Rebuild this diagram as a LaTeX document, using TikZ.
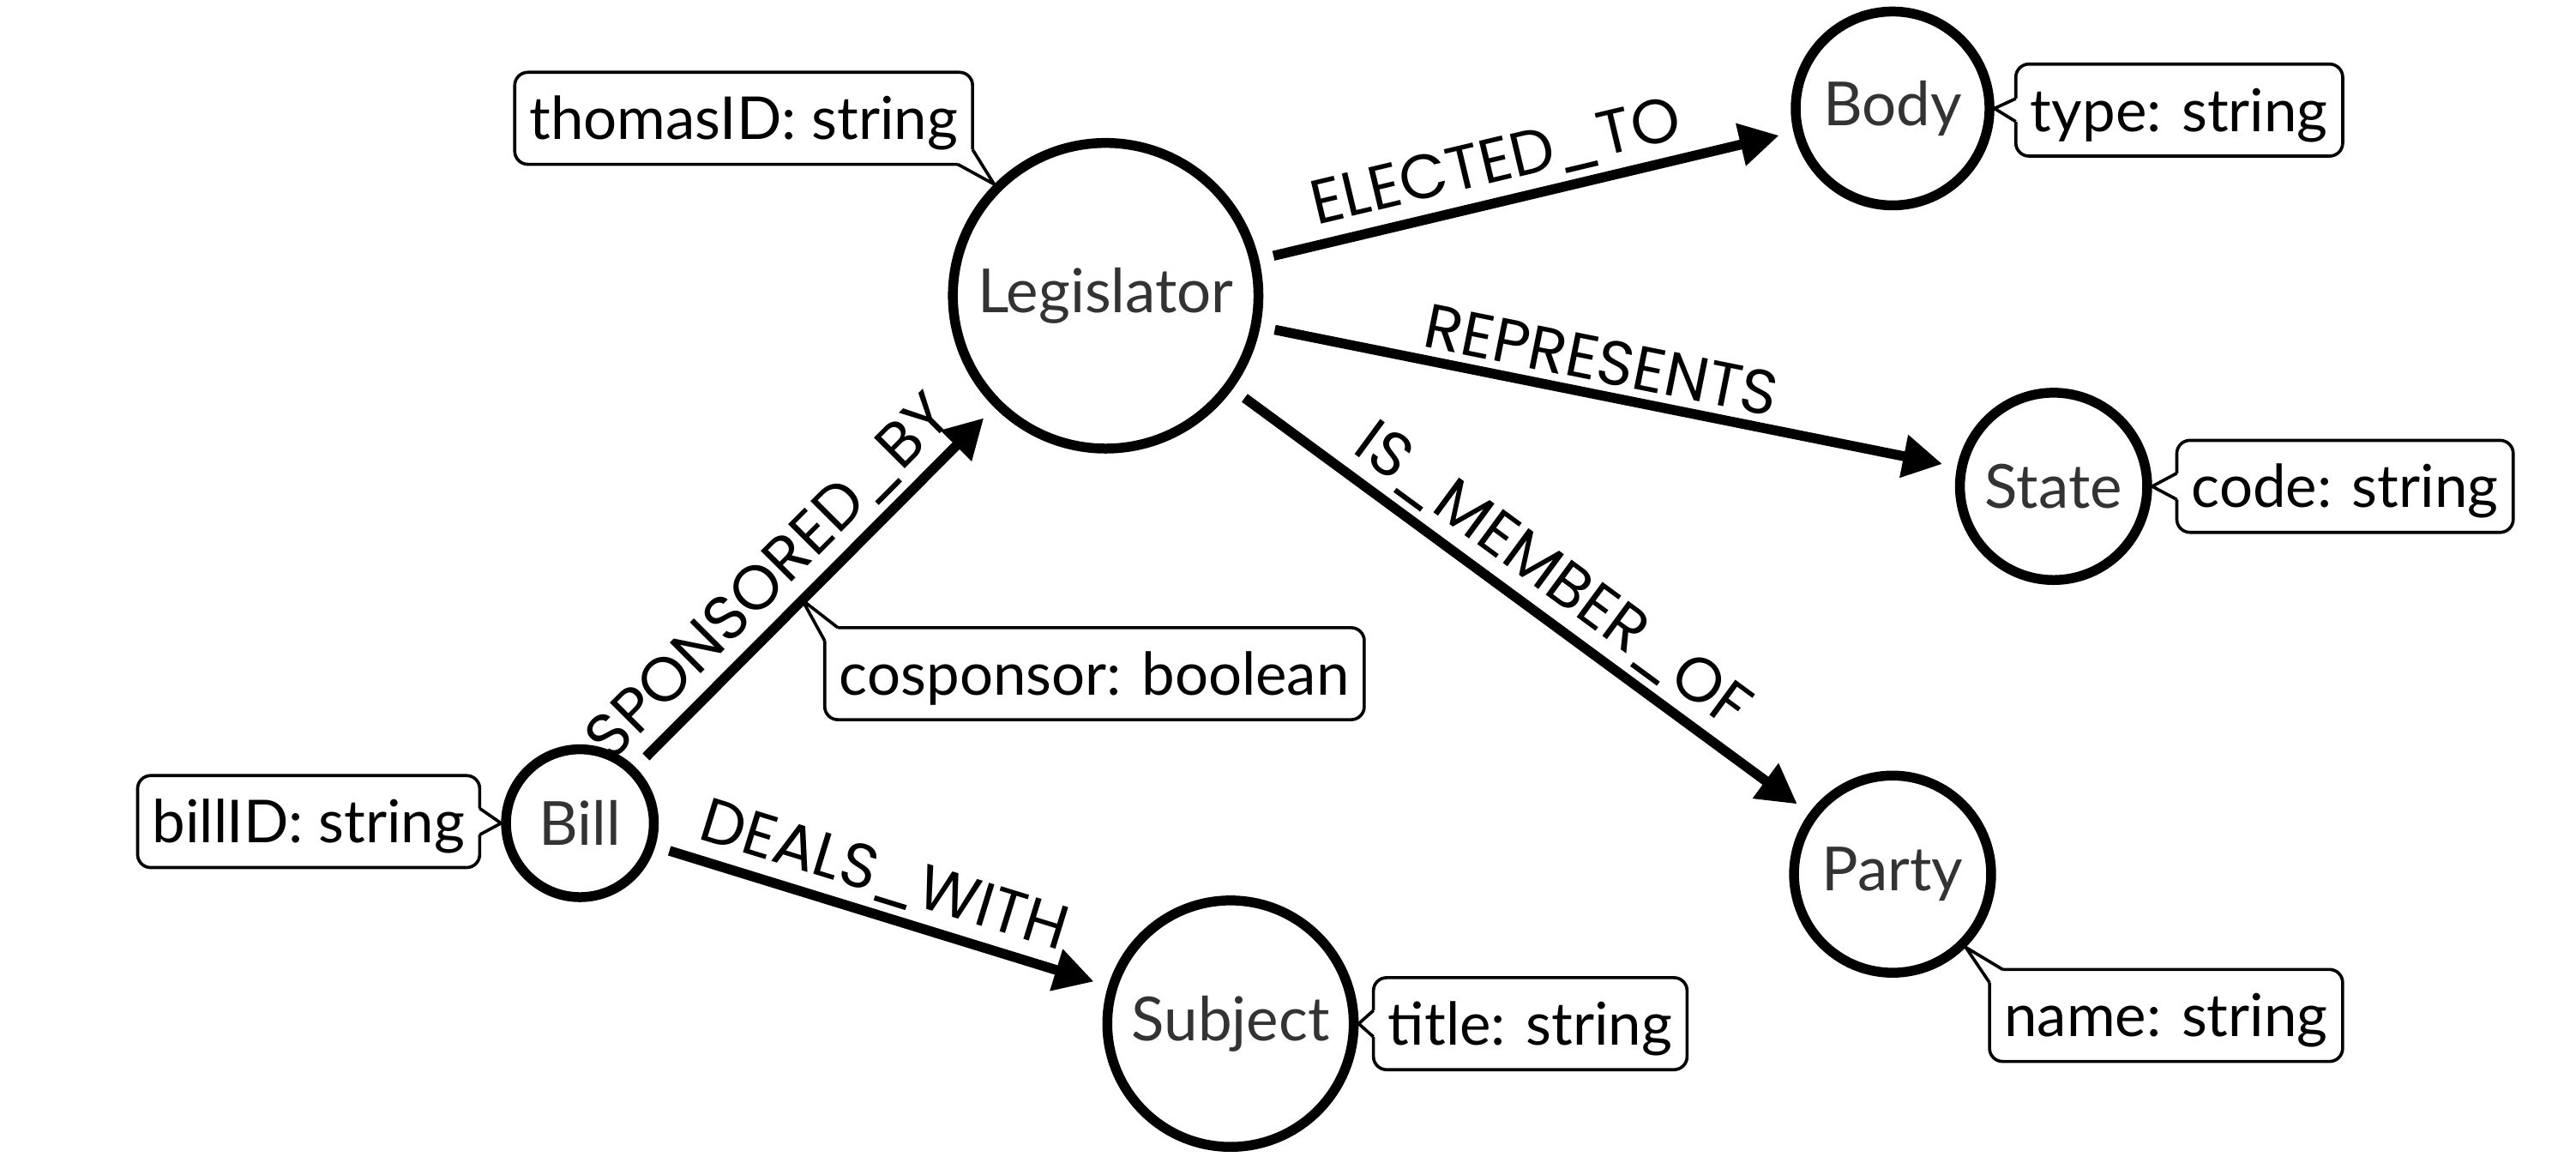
\documentclass[tikz,border=0pt]{standalone}
\usepackage{fontspec}
\setmainfont{Lato}
\newfontfamily\relfont{Poppins}
\usetikzlibrary{arrows.meta,calc}

\begin{document}
\begin{tikzpicture}[x=1pt,y=-1pt,
  entity/.style={circle,draw,line width=6pt,inner sep=0pt,text=black!80,font=\fontsize{37}{37}\selectfont},
  prop/.style={draw,fill=white,line width=1.9pt,rounded corners=8pt,outer sep=0pt,inner xsep=9pt,inner ysep=15pt,text height=26pt,text depth=0pt,font=\fontsize{36}{36}\selectfont},
  pointer/.style={line width=1.9pt,line join=round},
  rel/.style={line width=6pt,-{Triangle[length=24pt,width=25pt]},shorten <=9pt,shorten >=9pt},
  rellabel/.style={font=\relfont\fontsize{38}{38}\selectfont,above,sloped,inner sep=4.5pt}]

\useasboundingbox (0,0) rectangle (1568,711);

% entities
\node[entity,minimum size=186pt] (legis) at (673,180) {Legislator};
\node[entity,minimum size=118pt] (body) at (1152,66) {Body};
\node[entity,minimum size=114pt] (state) at (1250,296) {State};
\node[entity,minimum size=120pt] (party) at (1152,532) {Party};
\node[entity,minimum size=90pt] (bill) at (353,501) {Bill};
\node[entity,minimum size=150pt] (subject) at (749,623) {Subject};

\coordinate (spons) at ($(bill)!0.423!(legis)$);

% properties
\node[prop,anchor=south east] (thomas) at (592,100) {thomasID: string};
\node[prop,anchor=west] (typ) at (1227,67) {type: string};
\node[prop,anchor=west] (code) at (1325,296) {code: string};
\node[prop,anchor=north west] (cospons) at (502,382) {cosponsor: boolean};
\node[prop,anchor=east] (billid) at (292,500) {billID: string};
\node[prop,anchor=west] (title) at (836,623) {title: string};
\node[prop,anchor=north west] (pname) at (1211,590) {name: string};

% pointers of the properties
\fill[white] ([xshift=-9pt]thomas.south east) -- (legis.135) -- ([yshift=9pt]thomas.south east) -- ([shift={(-9pt,9pt)}]thomas.south east) -- cycle;
\draw[pointer] ([xshift=-9pt]thomas.south east) -- (legis.135) -- ([yshift=9pt]thomas.south east);

\fill[white] ([yshift=7pt]typ.west) -- (body.east) -- ([yshift=-7pt]typ.west) -- ([shift={(2pt,-7pt)}]typ.west) -- ([shift={(2pt,7pt)}]typ.west) -- cycle;
\draw[pointer] ([yshift=7pt]typ.west) -- (body.east) -- ([yshift=-7pt]typ.west);

\fill[white] ([yshift=8pt]code.west) -- (state.east) -- ([yshift=-8pt]code.west) -- ([shift={(2pt,-8pt)}]code.west) -- ([shift={(2pt,8pt)}]code.west) -- cycle;
\draw[pointer] ([yshift=8pt]code.west) -- (state.east) -- ([yshift=-8pt]code.west);

\fill[white] ([yshift=8pt]title.west) -- (subject.east) -- ([yshift=-8pt]title.west) -- ([shift={(2pt,-8pt)}]title.west) -- ([shift={(2pt,8pt)}]title.west) -- cycle;
\draw[pointer] ([yshift=8pt]title.west) -- (subject.east) -- ([yshift=-8pt]title.west);

\fill[white] ([yshift=8pt]billid.east) -- (bill.west) -- ([yshift=-8pt]billid.east) -- ([shift={(-2pt,-8pt)}]billid.east) -- ([shift={(-2pt,8pt)}]billid.east) -- cycle;
\draw[pointer] ([yshift=8pt]billid.east) -- (bill.west) -- ([yshift=-8pt]billid.east);

\fill[white] ([xshift=8pt]pname.north west) -- (party.-45) -- ([yshift=-8pt]pname.north west) -- ([shift={(8pt,-8pt)}]pname.north west) -- cycle;
\draw[pointer] ([xshift=8pt]pname.north west) -- (party.-45) -- ([yshift=-8pt]pname.north west);

\fill[white] ([xshift=8pt]cospons.north west) -- (spons) -- ([yshift=-8pt]cospons.north west) -- ([shift={(8pt,-8pt)}]cospons.north west) -- cycle;
\draw[pointer] ([xshift=8pt]cospons.north west) -- (spons) -- ([yshift=-8pt]cospons.north west);

% relationships
\draw[rel] (legis) -- node[rellabel,pos=0.46] {ELECTED\_TO} (body);
\draw[rel] (legis) -- node[rellabel,pos=0.48] {REPRESENTS} (state);
\draw[rel] (legis) -- node[rellabel,pos=0.515] {IS\_MEMBER\_OF} (party);
\draw[rel] (bill) -- node[rellabel,pos=0.45] {SPONSORED\_BY} (legis);
\draw[rel] (bill) -- node[rellabel,pos=0.48] {DEALS\_WITH} (subject);
\end{tikzpicture}
\end{document}
